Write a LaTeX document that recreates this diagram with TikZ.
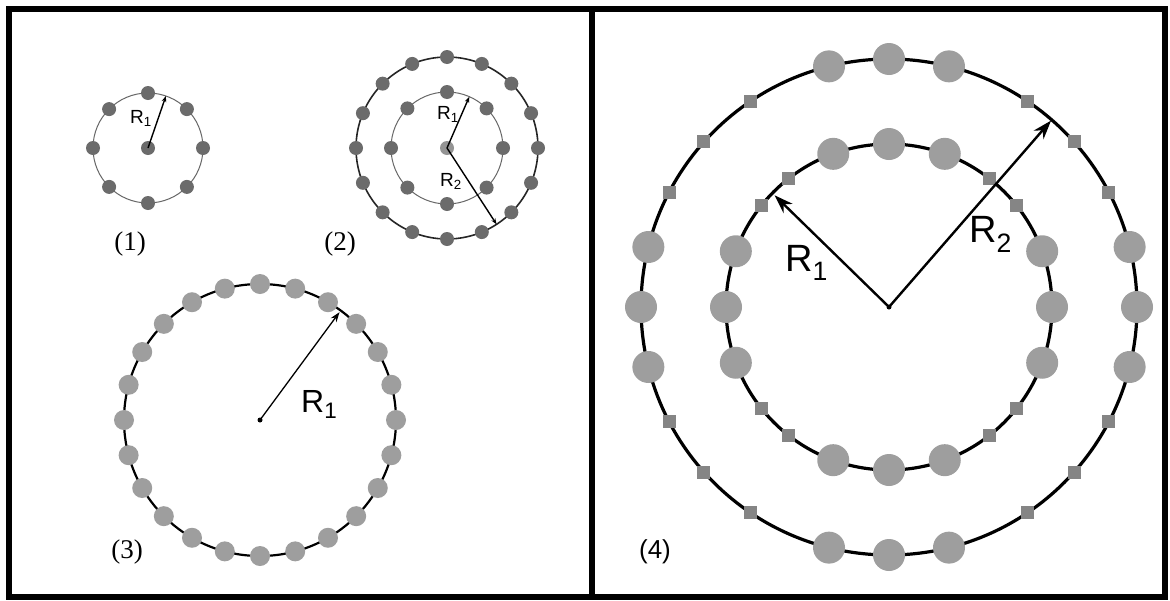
\documentclass[tikz,border=0pt]{standalone}
\usepackage{fontspec}
\setmainfont{Liberation Serif}
\setsansfont{Liberation Sans}
\usetikzlibrary{arrows.meta}

\begin{document}
\begin{tikzpicture}[x=1pt, y=1pt,
  every node/.style={inner sep=0pt},
  smalldot/.style={circle, fill=black!58, minimum size=14pt},
  paledot/.style={circle, fill=black!42, minimum size=14pt},
  midball/.style={circle, fill=black!38, minimum size=20pt},
  bigball/.style={circle, fill=black!38, minimum size=32pt},
  linker/.style={rectangle, fill=black!48, minimum size=13pt},
  hub/.style={circle, fill=black, minimum size=5pt},
  thinring/.style={draw=black!60, line width=1pt},
  darkring/.style={draw=black!85, line width=1.6pt},
  ring/.style={draw=black, line width=2.2pt},
  thickring/.style={draw=black, line width=3.2pt},
  thinarrow/.style={-{Stealth[length=6pt,width=4.5pt]}, line width=1.4pt},
  midarrow/.style={-{Stealth[length=10pt,width=7pt]}, line width=1.3pt},
  bigarrow/.style={-{Stealth[length=19pt,width=13pt]}, line width=2.4pt},
  rlabel/.style={font=\sffamily\fontsize{#1}{#1}\selectfont, anchor=base west},
  tag/.style={font=\fontsize{27}{30}\selectfont}
]
\useasboundingbox (0,0) rectangle (1170,-600);

%========== FRAME ==========
\draw[line width=6pt] (9,-9) rectangle (1165,-597);
\draw[line width=6pt] (592,-9) -- (592,-597);

%========== PANEL 1: one ring of 8 ==========
\coordinate (c1) at (148,-148);
\draw[thinring] (c1) circle[radius=55];
\foreach \a [count=\i] in {0,45,...,315}
  \node[smalldot] (d1-\i) at ([shift={(\a:55)}]c1) {};
\node[smalldot] (m1) at (c1) {};
\coordinate (t1) at ([shift={(71:55)}]c1);
\draw[thinarrow] (m1.center) -- (t1);
\node[rlabel=19] (r1) at (130,-123) {R\textsubscript{1}};
\node[tag] (n1) at (130,-244) {(1)};

%========== PANEL 2: rings of 8 and 16 ==========
\coordinate (c2) at (447,-148);
\draw[thinring] (c2) circle[radius=56];
\draw[darkring] (c2) circle[radius=91];
\foreach \a [count=\i] in {0,45,...,315}
  \node[smalldot] (d2-\i) at ([shift={(\a:56)}]c2) {};
\foreach \a [count=\i] in {0,22.5,...,337.5}
  \node[smalldot] (e2-\i) at ([shift={(\a:91)}]c2) {};
\node[paledot] (m2) at (c2) {};
\coordinate (t2a) at ([shift={(66.5:56)}]c2);
\coordinate (t2b) at ([shift={(-57:91)}]c2);
\draw[thinarrow] (m2.center) -- (t2a);
\draw[thinarrow] (m2.center) -- (t2b);
\node[rlabel=19] (r2a) at (437,-119) {R\textsubscript{1}};
\node[rlabel=19] (r2b) at (440,-186) {R\textsubscript{2}};
\node[tag] (n2) at (340,-244.5) {(2)};

%========== PANEL 3: ring of 24 ==========
\coordinate (c3) at (260,-420);
\draw[ring] (c3) circle[radius=136];
\foreach \a [count=\i] in {0,15,...,345}
  \node[midball] (d3-\i) at ([shift={(\a:136)}]c3) {};
\node[hub] (m3) at (c3) {};
\coordinate (t3) at ([shift={(53.6:134)}]c3);
\draw[midarrow] (m3.center) -- (t3);
\node[rlabel=32] (r3) at (301,-412) {R\textsubscript{1}};
\node[tag] (n3) at (127,-552) {(3)};

%========== PANEL 4: two rings, balls and linkers ==========
\coordinate (c4) at (889,-307);
\draw[thickring] (c4) circle[radius=163];
\draw[thickring] (c4) circle[radius=248];
\foreach \a [count=\i] in {-20,0,20,70,90,110,160,180,200,250,270,290}
  \node[bigball] (d4-\i) at ([shift={(\a:163)}]c4) {};
\foreach \a [count=\i] in {38.5,52,128,141.5,218.5,232,308,321.5}
  \node[linker] (s4-\i) at ([shift={(\a:163)}]c4) {};
\foreach \a [count=\i] in {-14,0,14,76,90,104,166,180,194,256,270,284}
  \node[bigball] (e4-\i) at ([shift={(\a:248)}]c4) {};
\foreach \a [count=\i] in {27.5,41.75,56,124,138.25,152.5,207.5,221.75,236,304,318.25,332.5}
  \node[linker] (u4-\i) at ([shift={(\a:248)}]c4) {};
\node[hub] (m4) at (c4) {};
\coordinate (t4a) at ([shift={(135.7:160)}]c4);
\coordinate (t4b) at ([shift={(49:247)}]c4);
\draw[bigarrow] (m4.center) -- (t4a);
\draw[bigarrow] (m4.center) -- (t4b);
\node[rlabel=38] (r4a) at (785,-271) {R\textsubscript{1}};
\node[rlabel=38] (r4b) at (969,-242) {R\textsubscript{2}};
\node[tag, font=\sffamily\fontsize{26}{30}\selectfont] (n4) at (655,-552) {(4)};

\end{tikzpicture}
\end{document}
